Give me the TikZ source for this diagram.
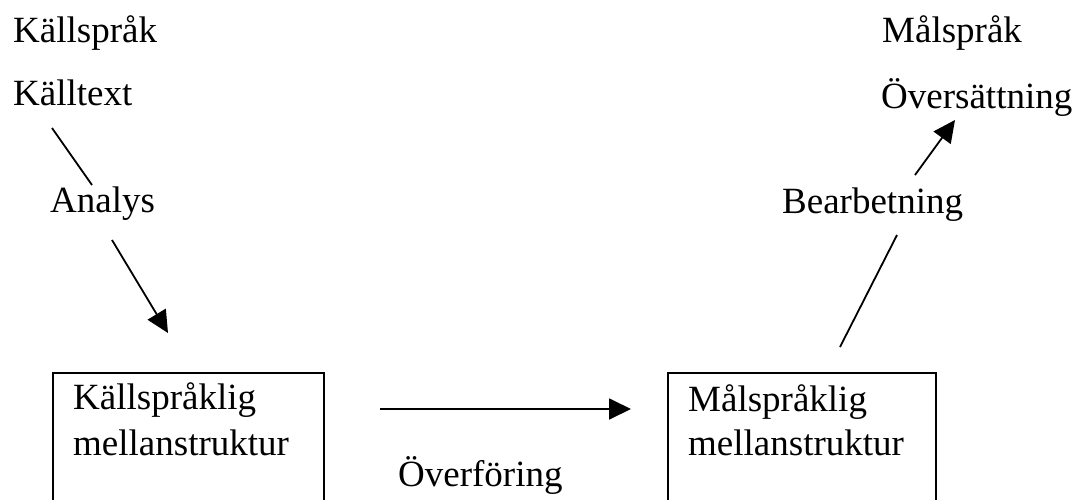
\documentclass[tikz,border=0pt]{standalone}
\usepackage{fontspec}
\setmainfont{Liberation Serif}
\usetikzlibrary{arrows.meta,positioning}

\tikzset{
  word/.style={inner sep=0pt, anchor=base west, font=\fontsize{37}{44}\selectfont},
  stagebox/.style={draw, line width=1.5pt, rectangle, anchor=north west, minimum height=160pt, inner sep=0pt},
  link/.style={line width=1.8pt},
  flow/.style={line width=1.8pt, -{Triangle[length=22pt,width=21pt]}}
}

\begin{document}
\begin{tikzpicture}[x=1pt,y=-1pt]
  \useasboundingbox (0,0) rectangle (1074,499);
  \clip (0,0) rectangle (1074,499);
  % source side
  \node[word] (srclang) at (13,42) {Källspråk};
  \node[word] (srctext) at (13,105) {Källtext};
  \node[word] (analys) at (50,212) {Analys};
  % target side
  \node[word] (tgtlang) at (882,42) {Målspråk};
  \node[word] (tgttext) at (881,108) {Översättning};
  \node[word] (bearb) at (782,213) {Bearbetning};
  % intermediate structures
  \node[stagebox, minimum width=271pt] (srcbox) at (52,372) {};
  \node[word] (srcboxa) at (73,409) {Källspråklig};
  \node[word] (srcboxb) at (73,455) {mellanstruktur};
  \node[stagebox, minimum width=268pt] (tgtbox) at (667,372) {};
  \node[word] (tgtboxa) at (688,411) {Målspråklig};
  \node[word] (tgtboxb) at (688,455) {mellanstruktur};
  \node[word] (transfer) at (398,486) {Överföring};
  % connector ends
  \coordinate (a1) at (52,128);
  \coordinate (a2) at (92,185);
  \coordinate (b1) at (112,240);
  \coordinate (b2) at (168,333);
  \coordinate (c1) at (380,409);
  \coordinate (c2) at (631,409);
  \coordinate (d1) at (840,347);
  \coordinate (d2) at (897,235);
  \coordinate (e1) at (915,175);
  \coordinate (e2) at (955,120);
  % connectors
  \draw[link] (a1) -- (a2);
  \draw[flow] (b1) -- (b2);
  \draw[flow] (c1) -- (c2);
  \draw[link] (d1) -- (d2);
  \draw[flow] (e1) -- (e2);
\end{tikzpicture}
\end{document}
